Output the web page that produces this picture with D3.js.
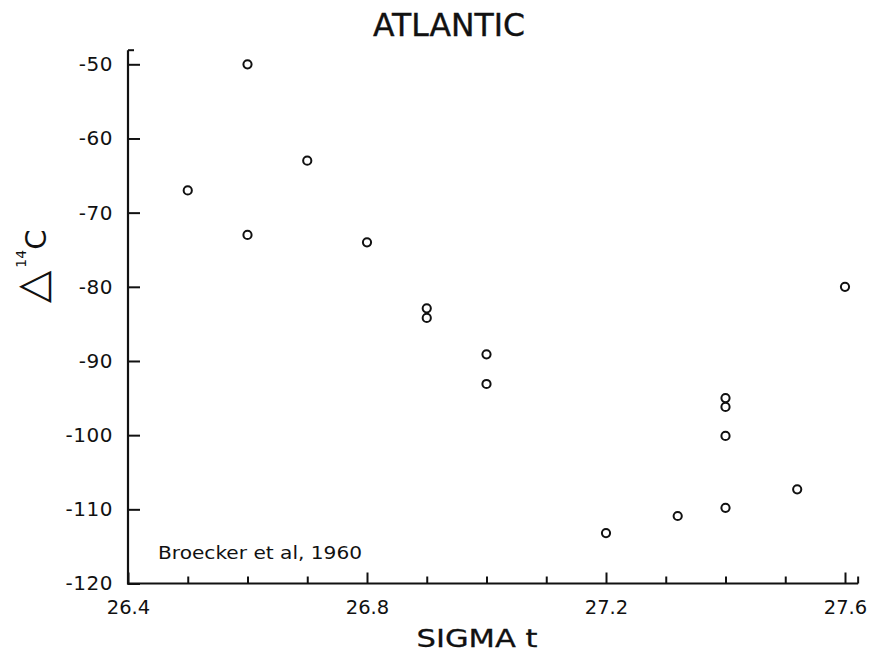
<!DOCTYPE html>
<html>
<head>
<meta charset="utf-8">
<script src="https://cdn.jsdelivr.net/npm/d3@7"></script>
<style>
  html, body { margin: 0; padding: 0; background: #fff; }
  svg { display: block; }
  text { font-family: "DejaVu Sans", "Liberation Sans", sans-serif; fill: #111; }
</style>
</head>
<body>
<svg id="chart" width="869" height="654"></svg>
<script>
// ---- data ----
const sigmaT = [26.5, 26.6, 26.6, 26.7, 26.8, 26.9, 26.9, 27.0, 27.0, 27.2, 27.32, 27.4, 27.4, 27.4, 27.4, 27.52, 27.6];
const delta14C = [-67, -50, -73, -63, -74, -82.9, -84.2, -89.1, -93.1, -113.2, -110.9, -95.0, -96.2, -100.1, -109.8, -107.3, -80.0];
const xMajorTicks = [26.4, 26.8, 27.2, 27.6];
const xMinorTicks = [26.5, 26.6, 26.7, 26.9, 27.0, 27.1, 27.3, 27.4, 27.5];
const yTicks = [-50, -60, -70, -80, -90, -100, -110, -120];
const xAxisEnd = 27.622;
const yAxisTop = -48.1;
const titleText = "ATLANTIC";
const xLabel = "SIGMA t";
const sourceNote = "Broecker et al, 1960";

const svg = d3.select("#chart");
const x = d3.scaleLinear().domain([26.4, 27.6]).range([128, 845]);
const y = d3.scaleLinear().domain([-50, -120]).range([64.3, 583.5]);

const axisColor = "#111";

// y axis (ticks point inward, to the right)
const gy = svg.append("g").attr("transform", `translate(${x(26.4)},0)`)
  .call(d3.axisLeft(y).tickValues(yTicks).tickSizeInner(-12).tickSizeOuter(0).tickPadding(15)
    .tickFormat(d => String(d)));
gy.select(".domain").remove();
gy.selectAll("line").attr("stroke", axisColor).attr("stroke-width", 2);
gy.selectAll("text").attr("font-size", 20).attr("letter-spacing", 0.5)
  .style("font-family", '"DejaVu Sans", sans-serif').attr("fill", "#111");

// x axis major (ticks point up)
const gx = svg.append("g").attr("transform", `translate(0,${y(-120)})`)
  .call(d3.axisBottom(x).tickValues(xMajorTicks).tickSizeInner(-11).tickSizeOuter(0).tickPadding(17)
    .tickFormat(d3.format(".1f")));
gx.select(".domain").remove();
gx.selectAll("line").attr("stroke", axisColor).attr("stroke-width", 2);
gx.selectAll("text").attr("font-size", 19.5).style("font-family", '"DejaVu Sans", sans-serif').attr("fill", "#111");

// x axis minor
const gxm = svg.append("g").attr("transform", `translate(0,${y(-120)})`)
  .call(d3.axisBottom(x).tickValues(xMinorTicks).tickSizeInner(-7).tickSizeOuter(0).tickFormat(""));
gxm.select(".domain").remove();
gxm.selectAll("line").attr("stroke", axisColor).attr("stroke-width", 2);

// axis lines
svg.append("line").attr("x1", x(26.4)).attr("x2", x(26.4)).attr("y1", y(yAxisTop)).attr("y2", y(-120) + 1)
  .attr("stroke", axisColor).attr("stroke-width", 2.2);
svg.append("line").attr("x1", x(26.4) - 1).attr("x2", x(xAxisEnd)).attr("y1", y(-120)).attr("y2", y(-120))
  .attr("stroke", axisColor).attr("stroke-width", 2.2);
// end ticks
svg.append("line").attr("x1", x(26.4)).attr("x2", x(26.4) + 6).attr("y1", y(yAxisTop)).attr("y2", y(yAxisTop))
  .attr("stroke", axisColor).attr("stroke-width", 2);
svg.append("line").attr("x1", x(xAxisEnd)).attr("x2", x(xAxisEnd)).attr("y1", y(-120)).attr("y2", y(-120) - 7)
  .attr("stroke", axisColor).attr("stroke-width", 2);

// points
svg.append("g").selectAll("circle")
  .data(sigmaT.map((s, i) => [s, delta14C[i]]))
  .join("circle")
  .attr("cx", d => x(d[0]))
  .attr("cy", d => y(d[1]))
  .attr("r", 4.1)
  .attr("fill", "none")
  .attr("stroke", "#111")
  .attr("stroke-width", 2);

// title
svg.append("text").attr("x", 449).attr("y", 36).attr("text-anchor", "middle")
  .attr("font-size", 32).attr("textLength", 152).attr("lengthAdjust", "spacingAndGlyphs")
  .attr("stroke", "#111").attr("stroke-width", 0.4)
  .text(titleText);

// x label
svg.append("text").attr("x", 477).attr("y", 647).attr("text-anchor", "middle")
  .attr("font-size", 25).attr("textLength", 121).attr("lengthAdjust", "spacingAndGlyphs")
  .attr("stroke", "#111").attr("stroke-width", 0.3)
  .text(xLabel);

// source note
svg.append("text").attr("x", 158).attr("y", 559)
  .attr("font-size", 18.5).attr("textLength", 204).attr("lengthAdjust", "spacingAndGlyphs")
  .text(sourceNote);

// y label: Δ 14C rotated
const yl = svg.append("text").attr("transform", "translate(46,303) rotate(-90)");
yl.append("tspan").attr("font-size", 42).text("\u25B3");
yl.append("tspan").attr("font-size", 14).attr("dx", 3).attr("dy", -20).text("14");
yl.append("tspan").attr("font-size", 29).attr("dy", 20).text("C");
</script>
</body>
</html>
